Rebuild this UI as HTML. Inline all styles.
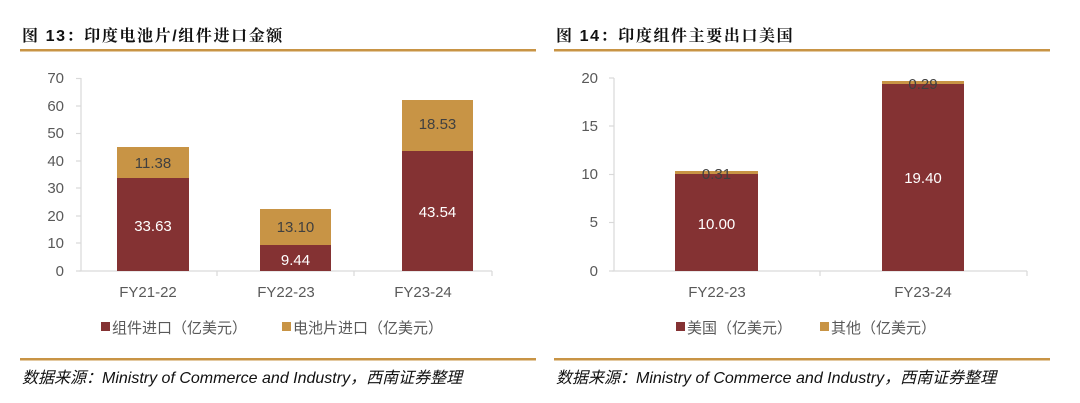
<!DOCTYPE html>
<html><head><meta charset="utf-8"><style>
html,body{margin:0;padding:0;background:#fff;width:1080px;height:403px;overflow:hidden}
svg{display:block}
</style></head><body>
<svg width="1080" height="403" xmlns="http://www.w3.org/2000/svg" font-family="'Liberation Sans','Noto Sans CJK SC',sans-serif">
<!-- Left chart -->
<text x="22" y="41" font-size="16" font-weight="bold" fill="#111" font-family="'Liberation Sans','Noto Serif CJK SC',serif" letter-spacing="1.6">图 13：印度电池片/组件进口金额</text>
<rect x="20" y="49" width="516" height="2.5" fill="#C89445"/>
<g font-size="15" fill="#595959" text-anchor="end">
<text x="64" y="83">70</text><text x="64" y="111">60</text><text x="64" y="138">50</text><text x="64" y="166">40</text><text x="64" y="193">30</text><text x="64" y="221">20</text><text x="64" y="248">10</text><text x="64" y="276">0</text>
</g>
<g stroke="#d9d9d9" stroke-width="1.2">
<line x1="81" y1="78" x2="81" y2="271"/>
<line x1="76" y1="78.5" x2="81" y2="78.5"/><line x1="76" y1="106" x2="81" y2="106"/><line x1="76" y1="133.5" x2="81" y2="133.5"/><line x1="76" y1="161" x2="81" y2="161"/><line x1="76" y1="188" x2="81" y2="188"/><line x1="76" y1="216" x2="81" y2="216"/><line x1="76" y1="243" x2="81" y2="243"/><line x1="76" y1="271" x2="81" y2="271"/>
<line x1="79" y1="271" x2="492" y2="271"/>
<line x1="217" y1="271" x2="217" y2="276"/><line x1="354" y1="271" x2="354" y2="276"/><line x1="492" y1="271" x2="492" y2="276"/>
</g>
<rect x="117" y="178" width="72" height="93" fill="#843233"/>
<rect x="117" y="147" width="72" height="31" fill="#C89445"/>
<rect x="260" y="245" width="71" height="26" fill="#843233"/>
<rect x="260" y="209" width="71" height="36" fill="#C89445"/>
<rect x="402" y="151" width="71" height="120" fill="#843233"/>
<rect x="402" y="100" width="71" height="51" fill="#C89445"/>
<g font-size="15" text-anchor="middle">
<text x="153" y="168" fill="#404040">11.38</text>
<text x="153" y="231" fill="#fff">33.63</text>
<text x="295.5" y="232" fill="#404040">13.10</text>
<text x="295.5" y="265" fill="#fff">9.44</text>
<text x="437.5" y="129" fill="#404040">18.53</text>
<text x="437.5" y="217" fill="#fff">43.54</text>
</g>
<g font-size="15" fill="#595959" text-anchor="middle">
<text x="148" y="297">FY21-22</text><text x="286" y="297">FY22-23</text><text x="423" y="297">FY23-24</text>
</g>
<rect x="101" y="322" width="9" height="9" fill="#843233"/>
<text x="112" y="333" font-size="15" fill="#595959">组件进口（亿美元）</text>
<rect x="282" y="322" width="9" height="9" fill="#C89445"/>
<text x="293" y="333" font-size="15" fill="#595959">电池片进口（亿美元）</text>
<rect x="20" y="358" width="516" height="2.5" fill="#C89445"/>
<text x="22" y="383" font-size="16" font-style="italic" fill="#111">数据来源：Ministry of Commerce and Industry，西南证券整理</text>

<!-- Right chart -->
<text x="556" y="41" font-size="16" font-weight="bold" fill="#111" font-family="'Liberation Sans','Noto Serif CJK SC',serif" letter-spacing="1.6">图 14：印度组件主要出口美国</text>
<rect x="554" y="49" width="496" height="2.5" fill="#C89445"/>
<g font-size="15" fill="#595959" text-anchor="end">
<text x="598" y="83">20</text><text x="598" y="131">15</text><text x="598" y="179">10</text><text x="598" y="227">5</text><text x="598" y="276">0</text>
</g>
<g stroke="#d9d9d9" stroke-width="1.2">
<line x1="614" y1="78" x2="614" y2="271"/>
<line x1="609" y1="78" x2="614" y2="78"/><line x1="609" y1="126" x2="614" y2="126"/><line x1="609" y1="174.5" x2="614" y2="174.5"/><line x1="609" y1="222.5" x2="614" y2="222.5"/><line x1="609" y1="271" x2="614" y2="271"/>
<line x1="612" y1="271" x2="1027" y2="271"/>
<line x1="820" y1="271" x2="820" y2="276"/><line x1="1027" y1="271" x2="1027" y2="276"/>
</g>
<rect x="675" y="174" width="83" height="97" fill="#843233"/>
<rect x="675" y="171" width="83" height="3" fill="#C89445"/>
<rect x="882" y="84" width="82" height="187" fill="#843233"/>
<rect x="882" y="81" width="82" height="3" fill="#C89445"/>
<g font-size="15" text-anchor="middle">
<text x="716.5" y="179" fill="#404040">0.31</text>
<text x="716.5" y="229" fill="#fff">10.00</text>
<text x="923" y="89" fill="#404040">0.29</text>
<text x="923" y="183" fill="#fff">19.40</text>
</g>
<g font-size="15" fill="#595959" text-anchor="middle">
<text x="717" y="297">FY22-23</text><text x="923" y="297">FY23-24</text>
</g>
<rect x="676" y="322" width="9" height="9" fill="#843233"/>
<text x="687" y="333" font-size="15" fill="#595959">美国（亿美元）</text>
<rect x="820" y="322" width="9" height="9" fill="#C89445"/>
<text x="831" y="333" font-size="15" fill="#595959">其他（亿美元）</text>
<rect x="554" y="358" width="496" height="2.5" fill="#C89445"/>
<text x="556" y="383" font-size="16" font-style="italic" fill="#111">数据来源：Ministry of Commerce and Industry，西南证券整理</text>
</svg>
</body></html>
